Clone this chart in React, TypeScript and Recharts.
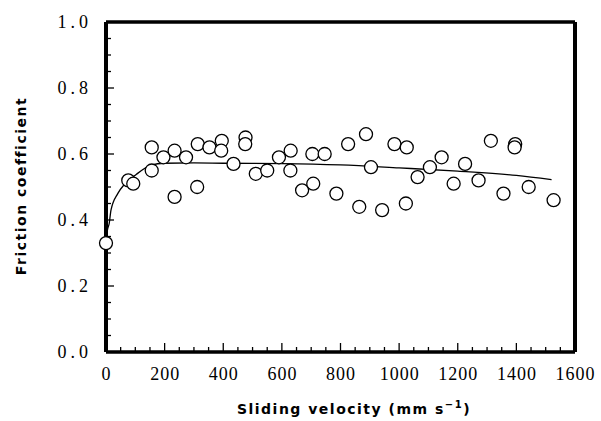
import React from 'react';
import { ComposedChart, Scatter, Line, XAxis, YAxis, ReferenceLine } from 'recharts';

const velocity = [0, 76, 93, 156, 156, 196, 234, 234, 273, 313, 311, 353, 395, 393, 435, 476, 475, 511, 550, 590, 630, 629, 669, 707, 704, 746, 786, 826, 887, 864, 904, 942, 984, 1026, 1023, 1063, 1105, 1145, 1186, 1225, 1271, 1313, 1356, 1396, 1394, 1442, 1527];
const friction = [0.33, 0.52, 0.51, 0.62, 0.55, 0.59, 0.61, 0.47, 0.59, 0.63, 0.50, 0.62, 0.64, 0.61, 0.57, 0.65, 0.63, 0.54, 0.55, 0.59, 0.61, 0.55, 0.49, 0.51, 0.60, 0.60, 0.48, 0.63, 0.66, 0.44, 0.56, 0.43, 0.63, 0.62, 0.45, 0.53, 0.56, 0.59, 0.51, 0.57, 0.52, 0.64, 0.48, 0.63, 0.62, 0.50, 0.46];

const fitVelocity = [0, 5, 11, 17, 40, 63, 103, 154, 200, 300, 400, 600, 800, 1000, 1200, 1400, 1520];
const fitFriction = [0.33, 0.37, 0.39, 0.43, 0.48, 0.508, 0.538, 0.566, 0.572, 0.573, 0.572, 0.571, 0.567, 0.558, 0.548, 0.535, 0.522];

const xTicks = [0, 50, 100, 150, 200, 250, 300, 350, 400, 450, 500, 550, 600, 650, 700, 750, 800, 850, 900, 950, 1000, 1050, 1100, 1150, 1200, 1250, 1300, 1350, 1400, 1450, 1500, 1550, 1600];
const yTicks = [0, 0.05, 0.1, 0.15, 0.2, 0.25, 0.3, 0.35, 0.4, 0.45, 0.5, 0.55, 0.6, 0.65, 0.7, 0.75, 0.8, 0.85, 0.9, 0.95, 1.0];

const xTitle = 'Sliding velocity  (mm s';
const xTitleSup = '−1';
const yTitle = 'Friction coefficient';

const points = velocity.map((v, i) => ({ x: v, y: friction[i] }));
const curve = fitVelocity.map((v, i) => ({ x: v, y: fitFriction[i] }));

const XTick = (props: any) => {
  const { x, y, payload } = props;
  const v = Number(payload.value);
  const major = v % 200 === 0;
  const px = Number(x);
  const py = Number(y);
  return (
    <g>
      <line x1={px} x2={px} y1={py} y2={py - (major ? 9 : 5)} stroke="#000" strokeWidth={1.3} />
      {major && (
        <text x={px + 0.5} y={py + 28} textAnchor="middle" fontFamily="'Liberation Serif', serif" fontSize={18} letterSpacing={1} fill="#000">
          {v}
        </text>
      )}
    </g>
  );
};

const YTick = (props: any) => {
  const { x, y, payload } = props;
  const v = Number(payload.value);
  const tenths = Math.round(v * 20);
  const major = tenths % 4 === 0;
  const px = Number(x);
  const py = Number(y);
  return (
    <g>
      <line x1={px} x2={px + (major ? 8 : 5)} y1={py} y2={py} stroke="#000" strokeWidth={1.3} />
      {major && (
        <text x={px - 14} y={py + 6} textAnchor="end" fontFamily="'Liberation Serif', serif" fontSize={18} letterSpacing={4} fill="#000">
          {v.toFixed(1)}
        </text>
      )}
    </g>
  );
};

const titleFont = { fontFamily: "'DejaVu Sans', sans-serif", fontWeight: 700, fontSize: 14, letterSpacing: 1.5, fill: '#000' } as any;

export default function App() {
  return (
    <div style={{ position: 'absolute', left: 0, top: 0, width: 601, height: 421 }}>
      <ComposedChart width={601} height={421} margin={{ top: 22, right: 26, bottom: 39, left: 46 }}>
        <XAxis type="number" dataKey="x" domain={[0, 1600]} ticks={xTicks} interval={0} tickSize={0} tickMargin={0} axisLine={{ stroke: '#000', strokeWidth: 3.5 }} tick={<XTick />} height={30} />
        <YAxis type="number" dataKey="y" domain={[0, 1]} ticks={yTicks} interval={0} tickSize={0} tickMargin={0} axisLine={{ stroke: '#000', strokeWidth: 4 }} tick={<YTick />} width={60} />
        <ReferenceLine y={1} stroke="#000" strokeWidth={3.5} />
        <ReferenceLine x={1600} stroke="#000" strokeWidth={4} />
        <Line data={curve} dataKey="y" type="monotone" stroke="#000" strokeWidth={1.3} dot={false} isAnimationActive={false} />
        <Scatter data={points} dataKey="y" isAnimationActive={false} shape={(p: any) => <circle cx={p.cx} cy={p.cy} r={6.5} fill="#fff" stroke="#000" strokeWidth={1.3} />} />
      </ComposedChart>
      <svg width={601} height={421} style={{ position: 'absolute', left: 0, top: 0, pointerEvents: 'none' }}>
        <text x={354} y={414} textAnchor="middle" {...titleFont}>
          <tspan>{xTitle}</tspan>
          <tspan dy={-6} fontSize={10}>{xTitleSup}</tspan>
          <tspan dy={6}>)</tspan>
        </text>
        <text x={26} y={186} transform="rotate(-90 26 186)" textAnchor="middle" {...titleFont}>
          {yTitle}
        </text>
      </svg>
    </div>
  );
}
